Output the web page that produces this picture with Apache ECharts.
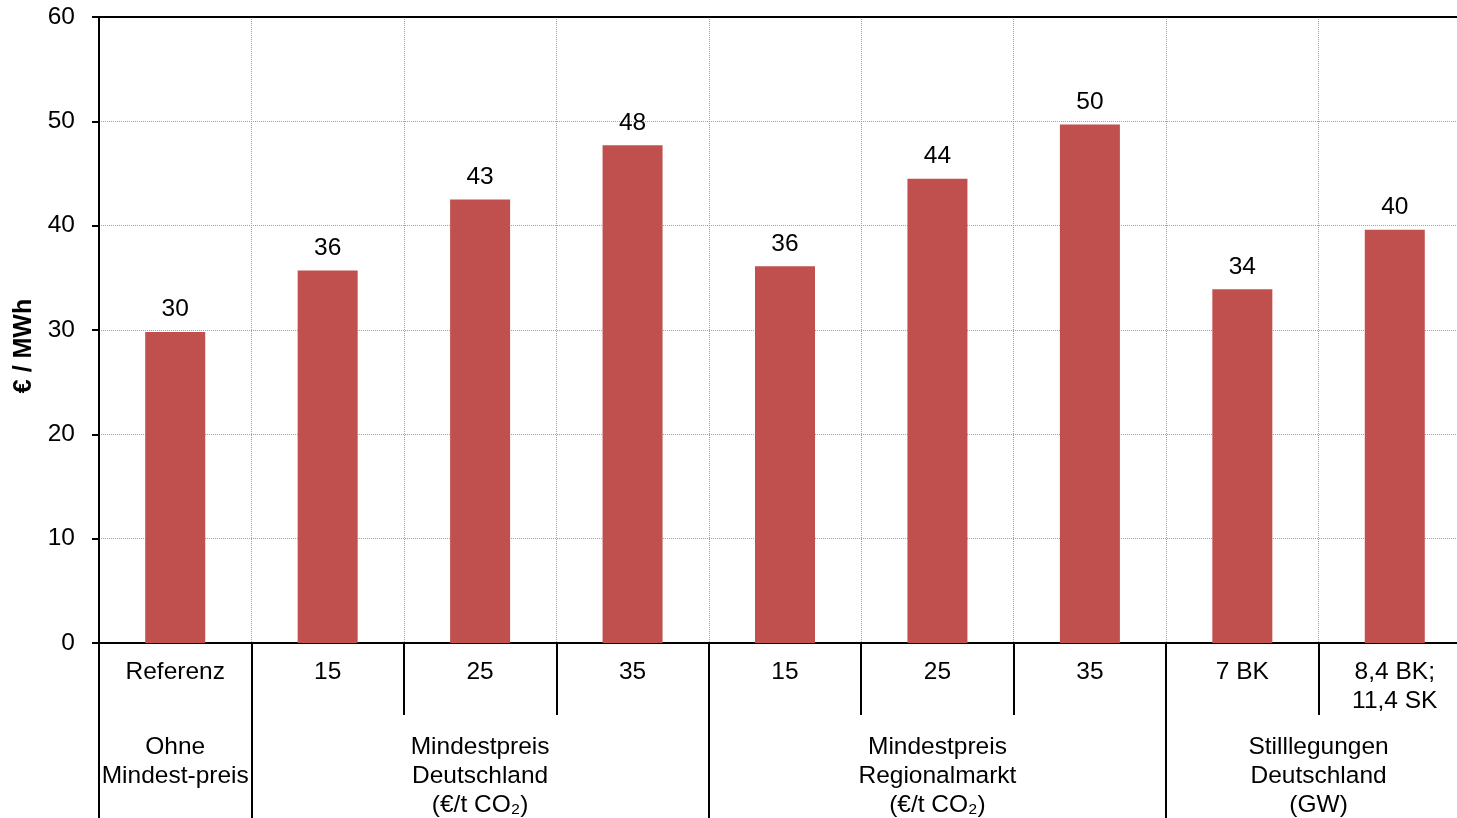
<!DOCTYPE html>
<html>
<head>
<meta charset="utf-8">
<script src="https://cdn.jsdelivr.net/npm/echarts@6/dist/echarts.min.js"></script>
<style>
html,body{margin:0;padding:0;background:#fff;}
#c{width:1457px;height:818px;}
</style>
</head>
<body>
<div id="c"></div>
<script>
const categories = ['Referenz', '15', '25', '35', '15', '25', '35', '7 BK', '8,4 BK;\n11,4 SK'];
const values = [29.8, 35.7, 42.5, 47.7, 36.1, 44.5, 49.7, 33.9, 39.6];
const valueLabels = ['30', '36', '43', '48', '36', '44', '50', '34', '40'];
const groupNames = ['Ohne\nMindest-preis', 'Mindestpreis\nDeutschland\n(€/t CO₂)', 'Mindestpreis\nRegionalmarkt\n(€/t CO₂)', 'Stilllegungen\nDeutschland\n(GW)'];
const groupBounds = [0, 1, 4, 7, 9];
const yTicks = [0, 10, 20, 30, 40, 50, 60];
const yAxisName = '€ / MWh';

const groupCenters = groupNames.map((_, i) => (groupBounds[i] + groupBounds[i + 1]) / 2);
const FONT = '"Liberation Sans", Arial, sans-serif';
const FS = 24.5;

const chart = echarts.init(document.getElementById('c'));
chart.setOption({
  animation: false,
  backgroundColor: '#fff',
  textStyle: { fontFamily: FONT },
  grid: { left: 99, right: -14, top: 17, bottom: 175, containLabel: false, outerBoundsMode: 'none' },
  xAxis: [
    {
      type: 'category',
      data: categories,
      position: 'bottom',
      boundaryGap: true,
      axisLine: { show: true, lineStyle: { color: '#000', width: 2 } },
      axisTick: { show: true, interval: 0, length: 72, lineStyle: { color: '#000', width: 2 } },
      axisLabel: { interval: 0, color: '#000', fontSize: FS, fontFamily: FONT, margin: 15, lineHeight: 29 },
      splitLine: { show: true, interval: 0, lineStyle: { color: '#a0a0a0', type: [1, 1], width: 1 } }
    },
    {
      type: 'value',
      min: groupBounds[0],
      max: groupBounds[groupBounds.length - 1],
      position: 'bottom',
      axisLine: { show: false },
      splitLine: { show: false },
      axisTick: { show: true, customValues: groupBounds, length: 180, lineStyle: { color: '#000', width: 2 } },
      axisLabel: {
        show: true,
        customValues: groupCenters,
        formatter: function (v) {
          const idx = groupCenters.findIndex(c => Math.abs(c - v) < 1e-6);
          return idx >= 0 ? groupNames[idx] : '';
        },
        color: '#000', fontSize: FS, fontFamily: FONT, margin: 90, lineHeight: 29
      }
    },
    {
      type: 'value',
      min: 0, max: 1,
      position: 'top',
      axisLine: { show: true, lineStyle: { color: '#000', width: 2 } },
      axisTick: { show: false },
      axisLabel: { show: false },
      splitLine: { show: false }
    }
  ],
  yAxis: {
    type: 'value',
    min: yTicks[0],
    max: yTicks[yTicks.length - 1],
    interval: yTicks[1] - yTicks[0],
    name: yAxisName,
    nameLocation: 'middle',
    nameGap: 59,
    nameRotate: 90,
    nameTextStyle: { color: '#000', fontSize: 25, fontWeight: 'bold', fontFamily: FONT, padding: [0, 32, 0, 0] },
    axisLine: { show: true, lineStyle: { color: '#000', width: 2 } },
    axisTick: { show: true, length: 7, lineStyle: { color: '#000', width: 2 } },
    axisLabel: { color: '#000', fontSize: FS, fontFamily: FONT, margin: 24 },
    splitLine: { show: true, lineStyle: { color: '#a0a0a0', type: [1, 1], width: 1 } }
  },
  series: [{
    type: 'bar',
    xAxisIndex: 0,
    data: values,
    barWidth: 60,
    itemStyle: { color: '#C0504D' },
    label: {
      show: true,
      position: 'top',
      distance: 10,
      color: '#000',
      fontSize: FS,
      fontFamily: FONT,
      formatter: p => valueLabels[p.dataIndex]
    }
  }]
});
</script>
</body>
</html>
